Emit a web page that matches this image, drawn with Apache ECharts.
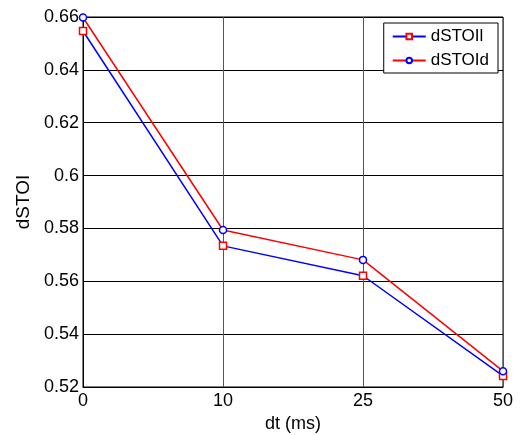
<!DOCTYPE html>
<html><head><meta charset="utf-8">
<script src="https://cdn.jsdelivr.net/npm/echarts@6/dist/echarts.min.js"></script>
<style>html,body{margin:0;padding:0;background:#fff}#c{width:522px;height:435px}</style>
</head><body><div id="c"></div>
<script>
var categories = ['0', '10', '25', '50'];
var dSTOIl = [0.6547, 0.5734, 0.5621, 0.5242];
var dSTOId = [0.6598, 0.5794, 0.5681, 0.5260];
var yTicks = [0.52, 0.54, 0.56, 0.58, 0.6, 0.62, 0.64, 0.66];

var chart = echarts.init(document.getElementById('c'));
var font = 'Liberation Sans, Arial, sans-serif';
chart.setOption({
  animation: false,
  backgroundColor: '#fff',
  grid: {left: 83, right: 19, top: 17, bottom: 48, show: true, borderColor: '#000', borderWidth: 1,
    containLabel: false, outerBoundsMode: 'none'},
  xAxis: {
    type: 'category', data: categories, boundaryGap: false,
    name: 'dt (ms)', nameLocation: 'middle', nameGap: 26,
    nameTextStyle: {fontFamily: font, fontSize: 18, color: '#000'},
    axisLine: {lineStyle: {color: '#000'}},
    axisTick: {show: false},
    axisLabel: {fontFamily: font, fontSize: 18, color: '#000', margin: 5},
    splitLine: {show: true, lineStyle: {color: '#555', width: 1}}
  },
  yAxis: {
    type: 'value', min: 0.52, max: 0.66, interval: 0.02,
    name: 'dSTOI', nameLocation: 'middle', nameGap: 48,
    nameTextStyle: {fontFamily: font, fontSize: 19, color: '#000'},
    axisLine: {show: true, lineStyle: {color: '#000'}},
    axisTick: {show: false},
    axisLabel: {fontFamily: font, fontSize: 18, color: '#000', margin: 4,
      formatter: function (v) { var s = String(+v.toFixed(2)); return yTicks.indexOf(+v.toFixed(2)) >= 0 ? s : ''; }},
    splitLine: {show: true, lineStyle: {color: '#000', width: 1}}
  },
  legend: {
    right: 24, top: 23, orient: 'vertical',
    backgroundColor: '#fff', borderColor: '#000', borderWidth: 1,
    padding: [5, 9, 4, 8], itemGap: 7, itemWidth: 33, itemHeight: 7,
    textStyle: {fontFamily: font, fontSize: 17, color: '#000'},
    data: ['dSTOIl', 'dSTOId']
  },
  series: [
    {name: 'dSTOIl', type: 'line', data: dSTOIl, symbol: 'rect', symbolSize: 7,
      lineStyle: {color: '#0000ff', width: 1.5}, color: '#0000ff',
      itemStyle: {color: '#fff', borderColor: '#ff0000', borderWidth: 1.5}, showAllSymbol: true},
    {name: 'dSTOId', type: 'line', data: dSTOId, symbol: 'circle', symbolSize: 7,
      lineStyle: {color: '#ff0000', width: 1.5}, color: '#ff0000',
      itemStyle: {color: '#fff', borderColor: '#0000ff', borderWidth: 1.5}, showAllSymbol: true}
  ]
});
</script></body></html>
